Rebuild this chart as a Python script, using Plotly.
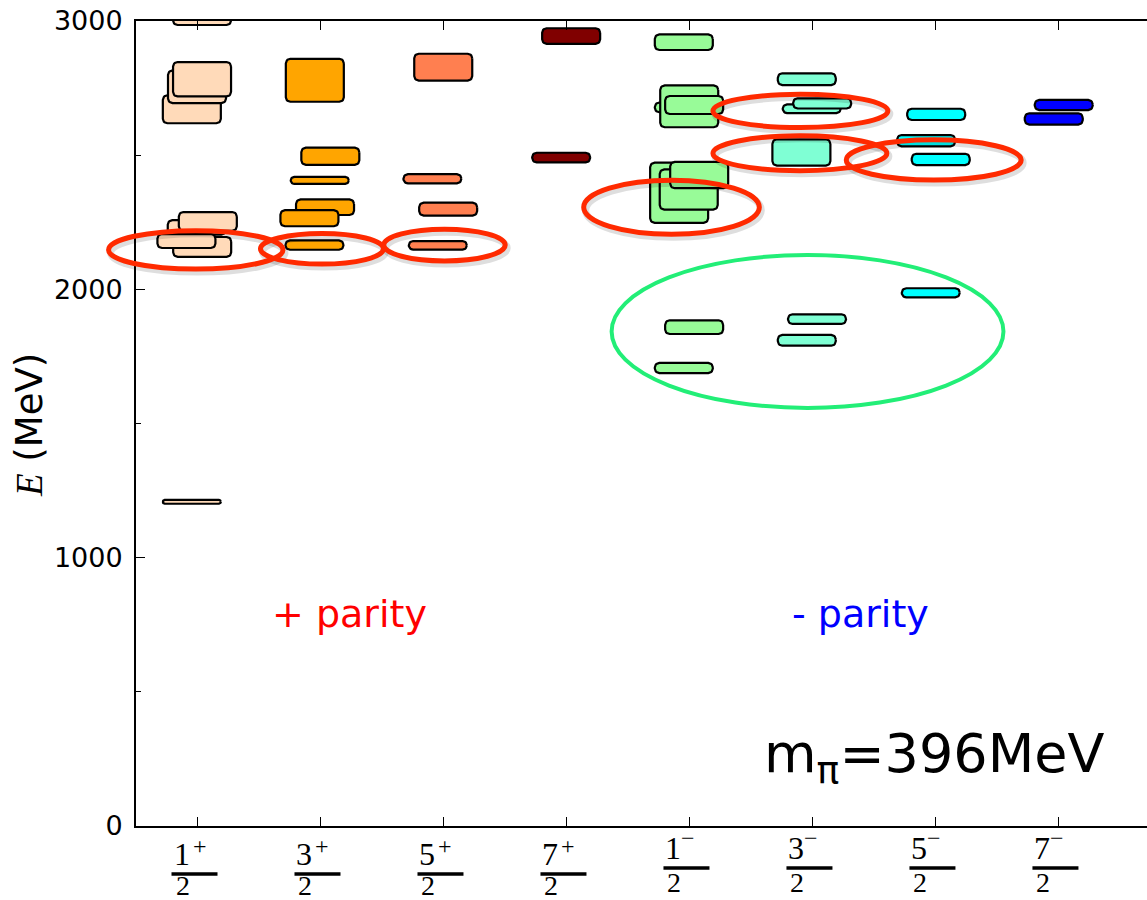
import numpy as np
import plotly.graph_objects as go

# ---------------- data ----------------
spin_numerators = ["1", "3", "5", "7", "1", "3", "5", "7"]
parity_signs = ["+", "+", "+", "+", "\u2212", "\u2212", "\u2212", "\u2212"]
spin_colors = ["#FFDAB9", "#FFA500", "#FF7F50", "#800000",
               "#98FB98", "#7FFFD4", "#00FFFF", "#0000FF"]

# levels (in drawing order): channel index, horizontal offset, energy (MeV), half-height (MeV)
level_channel = [0, 0, 0, 0, 0, 0, 0, 0, 0,
                 1, 1, 1, 1, 1, 1,
                 2, 2, 2, 2,
                 3, 3,
                 4, 4, 4, 4, 4, 4, 4, 4, 4,
                 5, 5, 5, 5, 5, 5,
                 6, 6, 6, 6,
                 7, 7]
level_offset = [-0.046, 0.038, -0.006, -0.090, 0.084, -0.046, -0.004, 0.037, 0.037,
                -0.049, 0.037, -0.090, -0.006, 0.080, -0.046,
                -0.046, 0.038, -0.090, -0.002,
                -0.043, 0.038,
                -0.046, 0.038, -0.084, -0.006, 0.079, -0.046, -0.002, 0.038, -0.046,
                -0.046, 0.037, -0.090, -0.006, 0.079, -0.046,
                -0.038, 0.043, -0.076, 0.006,
                -0.038, 0.043]
level_energy = [1208, 2158, 2231, 2180, 2253, 2671, 2755, 2783, 3010,
                2165, 2306, 2265, 2406, 2496, 2779,
                2164, 2299, 2412, 2828,
                2491, 2944,
                1707, 1859, 2360, 2372, 2426, 2678, 2682, 2687, 2921,
                1810, 1889, 2510, 2673, 2693, 2783,
                1987, 2484, 2554, 2652,
                2635, 2687]
level_error = [7, 37, 27, 26, 35, 52, 61, 64, 25,
               17.5, 29, 30, 13, 32, 80,
               16, 24, 17, 50,
               18, 29,
               19, 25.5, 112, 75, 49, 18, 78, 33.5, 29,
               20, 18, 49, 16, 19, 22,
               17, 21, 21, 21,
               21, 19]

# highlighted groups (ellipses): centre x, centre energy, semi-axis x, semi-axis energy
ring_x = [-0.014, 1.012, 2.008, 3.854, 4.902, 4.898, 5.986]
ring_E = [2147, 2151, 2165, 2306, 2665, 2507, 2482]
ring_rx = [0.709, 0.500, 0.494, 0.714, 0.711, 0.707, 0.711]
ring_rE = [71.6, 57, 59, 100.6, 62, 65, 75]
green_ring = dict(x=4.96, E=1843, rx=1.593, rE=285)

# ---------------- geometry ----------------
W, H = 1147, 900
ML, MR, MT, MB = 136, 0, 21, 74
XMIN, XMAX = -0.5, 7.72
YMIN, YMAX = 0, 3000
PW, PH = W - ML - MR, H - MT - MB
PX_PER_X = PW / (XMAX - XMIN)
PX_PER_E = PH / (YMAX - YMIN)
HALF_W = 29 / PX_PER_X
CORNER_PX = 4.5


def px(x):
    return (x - XMIN) / (XMAX - XMIN)


def py(E):
    return (E - YMIN) / (YMAX - YMIN)


def rounded_box(cx, cy, hw, hh):
    r = min(CORNER_PX, hh * PX_PER_E, hw * PX_PER_X)
    rx, ry = r / PX_PER_X, r / PX_PER_E
    corners = [(cx + hw - rx, cy + hh - ry, 0, 90),
               (cx - hw + rx, cy + hh - ry, 90, 180),
               (cx - hw + rx, cy - hh + ry, 180, 270),
               (cx + hw - rx, cy - hh + ry, 270, 360)]
    xs, ys = [], []
    for (ccx, ccy, a0, a1) in corners:
        t = np.radians(np.linspace(a0, a1, 8))
        xs.extend(ccx + rx * np.cos(t))
        ys.extend(ccy + ry * np.sin(t))
    xs.append(xs[0])
    ys.append(ys[0])
    return xs, ys


fig = go.Figure()
for c, o, E, e in zip(level_channel, level_offset, level_energy, level_error):
    xs, ys = rounded_box(c + o, E, HALF_W, e)
    fig.add_trace(go.Scatter(x=xs, y=ys, mode="lines", fill="toself",
                             fillcolor=spin_colors[c],
                             line=dict(color="black", width=2.2),
                             hoverinfo="skip", showlegend=False))

shapes = []
# red rings with soft shadow
for cx, cE, rx, rE in zip(ring_x, ring_E, ring_rx, ring_rE):
    dx, dy = 2 / PW, -3 / PH
    shapes.append(dict(type="circle", xref="paper", yref="paper",
                       x0=px(cx - rx) + dx, x1=px(cx + rx) + dx,
                       y0=py(cE - rE) + dy, y1=py(cE + rE) + dy,
                       line=dict(color="rgba(0,0,0,0.13)", width=7), layer="above"))
for cx, cE, rx, rE in zip(ring_x, ring_E, ring_rx, ring_rE):
    shapes.append(dict(type="circle", xref="paper", yref="paper",
                       x0=px(cx - rx), x1=px(cx + rx),
                       y0=py(cE - rE), y1=py(cE + rE),
                       line=dict(color="#FF2A00", width=5), layer="above"))
shapes.append(dict(type="circle", xref="paper", yref="paper",
                   x0=px(green_ring["x"] - green_ring["rx"]), x1=px(green_ring["x"] + green_ring["rx"]),
                   y0=py(green_ring["E"] - green_ring["rE"]), y1=py(green_ring["E"] + green_ring["rE"]),
                   line=dict(color="#22EE77", width=4), layer="above"))

annotations = []
serif = "Liberation Serif"
for i, (num, sgn) in enumerate(zip(spin_numerators, parity_signs)):
    plus = sgn == "+"
    num_c = 854 if plus else 848
    sgn_c = 846 if plus else 838
    bar_y = 874 if plus else 868
    den_c = 885 if plus else 882
    annotations.append(dict(x=i, xref="x", y=0, yref="paper", text=num,
                            xshift=-16, yshift=-(num_c - (H - MB)),
                            showarrow=False, xanchor="center", yanchor="middle",
                            font=dict(family=serif, size=32, color="black")))
    annotations.append(dict(x=i, xref="x", y=0, yref="paper", text=sgn,
                            xshift=2 if plus else -1, yshift=-(sgn_c - (H - MB)),
                            showarrow=False, xanchor="center", yanchor="middle",
                            font=dict(family=serif, size=24, color="black")))
    annotations.append(dict(x=i, xref="x", y=0, yref="paper", text="2",
                            xshift=-15, yshift=-(den_c - (H - MB)),
                            showarrow=False, xanchor="center", yanchor="middle",
                            font=dict(family=serif, size=28, color="black")))
    shapes.append(dict(type="line", xref="paper", yref="paper",
                       x0=px(i) - 26 / PW, x1=px(i) + 20 / PW,
                       y0=-(bar_y - (H - MB)) / PH, y1=-(bar_y - (H - MB)) / PH,
                       line=dict(color="black", width=3.5)))

annotations.append(dict(x=(30 - ML) / PW, y=(H - MB - 425) / PH, xref="paper", yref="paper",
                        text='<span style="font-family:Liberation Serif;font-style:italic">E</span> (MeV)',
                        textangle=-90, showarrow=False, xanchor="center", yanchor="middle",
                        font=dict(family="DejaVu Sans", size=37, color="black")))
annotations.append(dict(x=(349 - ML) / PW, y=(H - MB - 614) / PH, xref="paper", yref="paper",
                        text="+ parity", showarrow=False, xanchor="center", yanchor="middle",
                        font=dict(family="DejaVu Sans", size=38, color="#FF0000")))
annotations.append(dict(x=(860 - ML) / PW, y=(H - MB - 614) / PH, xref="paper", yref="paper",
                        text="- parity", showarrow=False, xanchor="center", yanchor="middle",
                        font=dict(family="DejaVu Sans", size=38, color="#0000FF")))
annotations.append(dict(x=(934 - ML) / PW, y=(H - MB - 757) / PH, xref="paper", yref="paper",
                        text="m<sub>\u03c0</sub>=396MeV", showarrow=False,
                        xanchor="center", yanchor="middle",
                        font=dict(family="DejaVu Sans", size=54, color="black")))

fig.update_layout(
    width=W, height=H,
    margin=dict(l=ML, r=MR, t=MT, b=MB),
    paper_bgcolor="white", plot_bgcolor="white",
    showlegend=False,
    font=dict(family="DejaVu Sans", color="black"),
    shapes=shapes, annotations=annotations,
    xaxis=dict(range=[XMIN, XMAX], showgrid=False, zeroline=False,
               showline=True, linecolor="black", linewidth=2, mirror="ticks",
               ticks="inside", ticklen=9, tickwidth=1, tickcolor="black",
               tickvals=list(range(len(spin_numerators))), showticklabels=False),
    yaxis=dict(range=[YMIN, YMAX], showgrid=False, zeroline=False,
               showline=True, linecolor="black", linewidth=2,
               ticks="inside", ticklen=9, tickwidth=1, tickcolor="black",
               tickvals=[0, 1000, 2000, 3000], ticktext=["0", "1000", "2000", "3000"],
               tickfont=dict(family="DejaVu Sans", size=27, color="black"),
               ticklabelstandoff=6,
               minor=dict(ticks="inside", ticklen=5, tickwidth=1, tickcolor="black",
                          dtick=500, tick0=0, showgrid=False)),
)

fig.write_html("out.html")
